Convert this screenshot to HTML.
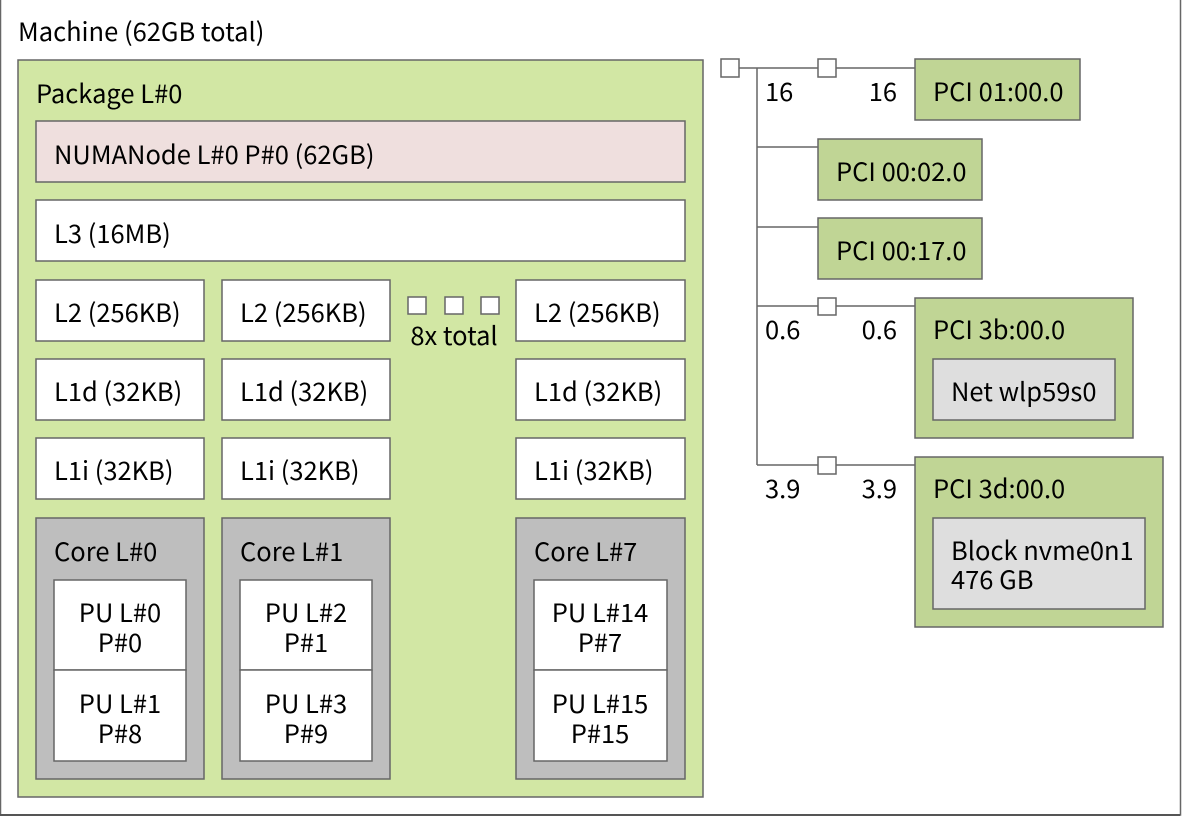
<!DOCTYPE html>
<html><head><meta charset="utf-8"><style>
html,body{margin:0;padding:0;background:#fff;width:1200px;height:823px;overflow:hidden}
svg text{font-family:"Noto Sans CJK SC","DejaVu Sans","Liberation Sans",sans-serif;font-size:25.5px;fill:#000}
</style></head><body>
<svg width="1200" height="823" xmlns="http://www.w3.org/2000/svg">
<g stroke="#666" stroke-width="1.5">
<rect x="0.5" y="-5" width="1180" height="820" fill="#fff"/>
<rect x="18" y="60" width="685" height="737" fill="#d2e7a4"/>
<rect x="36" y="121" width="649" height="61" fill="#efdfde"/>
<rect x="36" y="200" width="649" height="61" fill="#fff"/>
<rect x="36" y="280" width="168" height="61" fill="#fff"/>
<rect x="222" y="280" width="168" height="61" fill="#fff"/>
<rect x="516" y="280" width="169" height="61" fill="#fff"/>
<rect x="36" y="359" width="168" height="61" fill="#fff"/>
<rect x="222" y="359" width="168" height="61" fill="#fff"/>
<rect x="516" y="359" width="169" height="61" fill="#fff"/>
<rect x="36" y="438" width="168" height="61" fill="#fff"/>
<rect x="222" y="438" width="168" height="61" fill="#fff"/>
<rect x="516" y="438" width="169" height="61" fill="#fff"/>
<rect x="408" y="297" width="18" height="17" fill="#fff"/>
<rect x="445" y="297" width="18" height="17" fill="#fff"/>
<rect x="481" y="297" width="18" height="17" fill="#fff"/>
<rect x="36" y="518" width="168" height="261" fill="#bebebe"/>
<rect x="222" y="518" width="168" height="261" fill="#bebebe"/>
<rect x="516" y="518" width="169" height="261" fill="#bebebe"/>
<rect x="54" y="580" width="132" height="90" fill="#fff"/>
<rect x="54" y="670" width="132" height="91" fill="#fff"/>
<rect x="240" y="580" width="132" height="90" fill="#fff"/>
<rect x="240" y="670" width="132" height="91" fill="#fff"/>
<rect x="534" y="580" width="133" height="90" fill="#fff"/>
<rect x="534" y="670" width="133" height="91" fill="#fff"/>
<line x1="739" y1="68" x2="915" y2="68"/>
<line x1="757" y1="68" x2="757" y2="465"/>
<line x1="757" y1="147" x2="818" y2="147"/>
<line x1="757" y1="227" x2="818" y2="227"/>
<line x1="757" y1="306" x2="915" y2="306"/>
<line x1="757" y1="465" x2="915" y2="465"/>
<rect x="721" y="59" width="18" height="18" fill="#fff"/>
<rect x="818" y="59" width="18" height="18" fill="#fff"/>
<rect x="818" y="298" width="18" height="17" fill="#fff"/>
<rect x="818" y="457" width="18" height="17" fill="#fff"/>
<rect x="915" y="59" width="165" height="61" fill="#c0d595"/>
<rect x="818" y="139" width="164" height="61" fill="#c0d595"/>
<rect x="818" y="218" width="164" height="61" fill="#c0d595"/>
<rect x="915" y="298" width="218" height="140" fill="#c0d595"/>
<rect x="933" y="359" width="182" height="61" fill="#dedede"/>
<rect x="915" y="457" width="248" height="170" fill="#c0d595"/>
<rect x="933" y="518" width="212" height="91" fill="#dedede"/>
</g>
<line x1="0" y1="815" x2="1180" y2="815" stroke="#555" stroke-width="2"/>
<text x="18" y="41">Machine (62GB total)</text>
<text x="36" y="103">Package L#0</text>
<text x="54" y="164">NUMANode L#0 P#0 (62GB)</text>
<text x="54" y="243">L3 (16MB)</text>
<text x="54" y="322">L2 (256KB)</text>
<text x="240" y="322">L2 (256KB)</text>
<text x="534" y="322">L2 (256KB)</text>
<text x="454" y="345" text-anchor="middle">8x total</text>
<text x="54" y="401">L1d (32KB)</text>
<text x="240" y="401">L1d (32KB)</text>
<text x="534" y="401">L1d (32KB)</text>
<text x="54" y="480">L1i (32KB)</text>
<text x="240" y="480">L1i (32KB)</text>
<text x="534" y="480">L1i (32KB)</text>
<text x="54" y="561">Core L#0</text>
<text x="240" y="561">Core L#1</text>
<text x="534" y="561">Core L#7</text>
<g text-anchor="middle">
<text x="120" y="622">PU L#0</text><text x="120" y="652">P#0</text>
<text x="120" y="713">PU L#1</text><text x="120" y="743">P#8</text>
<text x="306" y="622">PU L#2</text><text x="306" y="652">P#1</text>
<text x="306" y="713">PU L#3</text><text x="306" y="743">P#9</text>
<text x="600" y="622">PU L#14</text><text x="600" y="652">P#7</text>
<text x="600" y="713">PU L#15</text><text x="600" y="743">P#15</text>
</g>
<text x="765" y="101">16</text>
<text x="897" y="101" text-anchor="end">16</text>
<text x="765" y="339">0.6</text>
<text x="897" y="339" text-anchor="end">0.6</text>
<text x="765" y="498">3.9</text>
<text x="897" y="498" text-anchor="end">3.9</text>
<text x="933" y="101">PCI 01:00.0</text>
<text x="836" y="181">PCI 00:02.0</text>
<text x="836" y="260">PCI 00:17.0</text>
<text x="933" y="339">PCI 3b:00.0</text>
<text x="951" y="401">Net wlp59s0</text>
<text x="933" y="498">PCI 3d:00.0</text>
<text x="951" y="560">Block nvme0n1</text>
<text x="951" y="589">476 GB</text>
</svg>
</body></html>
